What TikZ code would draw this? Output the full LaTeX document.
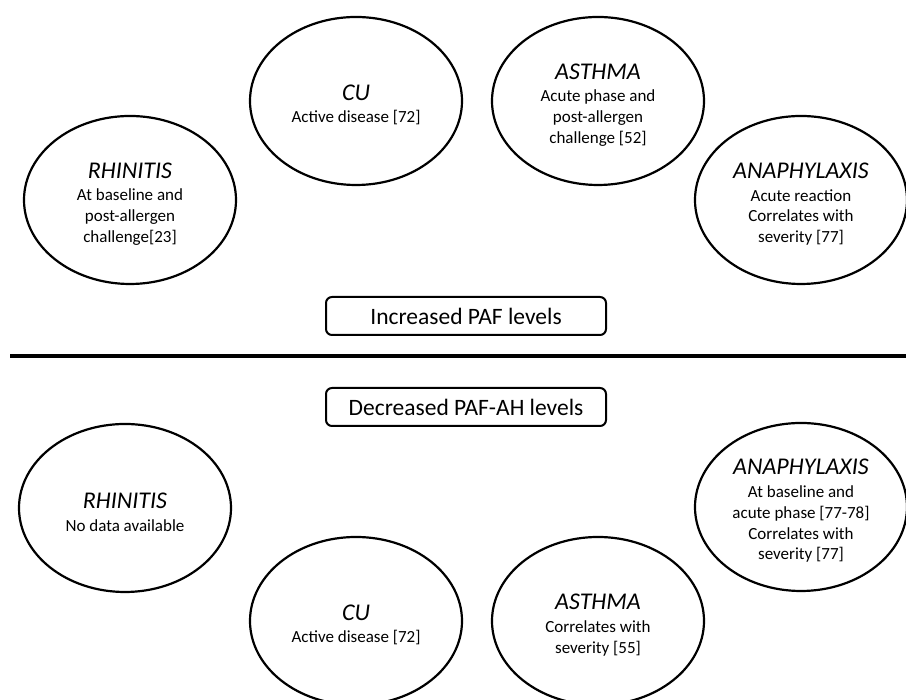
\documentclass[tikz,border=0pt]{standalone}
\usepackage{fontspec}
\setmainfont{Carlito}
\usetikzlibrary{shapes.geometric}
\tikzset{
  disease/.style={draw=black, line width=2.2pt, ellipse, minimum width=212pt, minimum height=168pt, inner sep=0pt},
  dtext/.style={align=center, inner sep=0pt, font=\fontsize{17}{20.7}\selectfont},
  levelbox/.style={draw=black, line width=2pt, rounded corners=6pt, minimum width=280pt, minimum height=38pt, inner sep=0pt, font=\fontsize{23.5}{26}\selectfont},
}
\newcommand{\ttl}[1]{{\fontsize{24}{27}\selectfont\itshape #1}\\[2pt]}
\begin{document}
\begin{tikzpicture}[x=1pt,y=1pt]
\useasboundingbox (0,0) rectangle (906,700);
\clip (0,0) rectangle (906,700);
% top half
\node[disease] (rh1) at (130,500) {};
\node[dtext] (rh1t) at ([yshift=-4pt]rh1.center) {\ttl{RHINITIS}At baseline and\\post-allergen\\challenge[23]};
\node[disease] (cu1) at (356,599) {};
\node[dtext] (cu1t) at ([yshift=-4pt]cu1.center) {\ttl{CU}Active disease [72]};
\node[disease] (as1) at (598,599) {};
\node[dtext] (as1t) at ([yshift=-4pt]as1.center) {\ttl{ASTHMA}Acute phase and\\post-allergen\\challenge [52]};
\node[disease] (an1) at (801,500) {};
\node[dtext] (an1t) at ([yshift=-4pt]an1.center) {\ttl{ANAPHYLAXIS}Acute reaction\\Correlates with\\severity [77]};
\node[levelbox] (inc) at (466,384) {Increased PAF levels};
% separator
\coordinate (sepL) at (10,344);
\coordinate (sepR) at (906,344);
\draw[line width=4.5pt] (sepL) -- (sepR);
% bottom half
\node[levelbox] (dec) at (466,293) {Decreased PAF-AH levels};
\node[disease] (rh2) at (125,192) {};
\node[dtext] (rh2t) at ([yshift=-4pt]rh2.center) {\ttl{RHINITIS}No data available};
\node[disease] (cu2) at (356,79) {};
\node[dtext] (cu2t) at ([yshift=-4pt]cu2.center) {\ttl{CU}Active disease [72]};
\node[disease] (as2) at (598,79) {};
\node[dtext] (as2t) at ([yshift=-4pt]as2.center) {\ttl{ASTHMA}Correlates with\\severity [55]};
\node[disease] (an2) at (801,193) {};
\node[dtext] (an2t) at ([yshift=-4pt]an2.center) {\ttl{ANAPHYLAXIS}At baseline and\\acute phase [77-78]\\Correlates with\\severity [77]};
\end{tikzpicture}
\end{document}
